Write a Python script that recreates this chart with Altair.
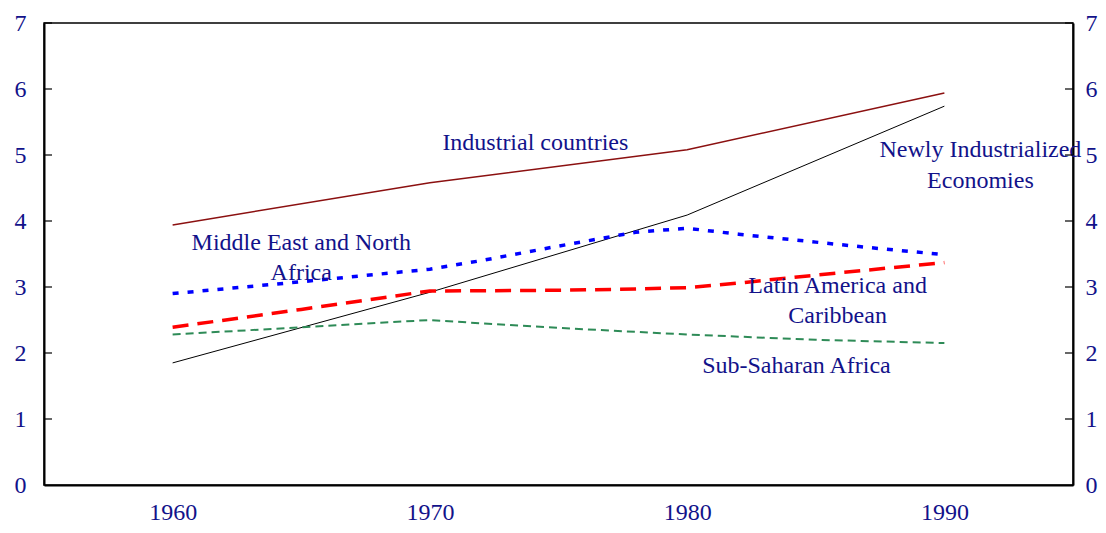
import altair as alt
import pandas as pd

# ---- data ----
ind_years = [1960, 1970, 1980, 1990]
ind_vals = [3.94, 4.58, 5.08, 5.94]

nie_years = [1960, 1970, 1980, 1990]
nie_vals = [1.85, 2.92, 4.09, 5.74]

mena_years = [1960, 1965, 1970, 1972, 1975, 1978, 1980, 1982, 1985, 1987, 1990]
mena_vals = [2.90, 3.08, 3.27, 3.40, 3.62, 3.83, 3.89, 3.80, 3.68, 3.60, 3.49]

lac_years = [1960, 1965, 1970, 1975, 1978, 1980, 1982, 1985, 1990]
lac_vals = [2.39, 2.66, 2.94, 2.95, 2.97, 2.99, 3.06, 3.18, 3.37]

ssa_years = [1960, 1965, 1970, 1972, 1975, 1980, 1985, 1990]
ssa_vals = [2.28, 2.39, 2.50, 2.45, 2.38, 2.28, 2.20, 2.15]

label_text = ["Industrial countries", "Newly Industrialized", "Economies",
              "Middle East and North", "Africa", "Latin America and", "Caribbean",
              "Sub-Saharan Africa"]
label_x = [1974.1, 1991.4, 1991.4, 1965.0, 1965.0, 1985.85, 1985.85, 1984.25]
label_y = [5.18, 5.08, 4.61, 3.67, 3.21, 3.02, 2.56, 1.80]

y_ticks = [0, 1, 2, 3, 4, 5, 6, 7]
x_ticks = [1960, 1970, 1980, 1990]

W, H = 1029, 462
FONT = "Liberation Serif"
NAVY = "#12128a"

series = [
    (ind_years, ind_vals, "#8b1010", 1.5, None),
    (nie_years, nie_vals, "#000000", 1.0, None),
    (ssa_years, ssa_vals, "#2e8b57", 2.0, [8, 5]),
    (lac_years, lac_vals, "#ff0000", 3.5, [16, 9]),
    (mena_years, mena_vals, "#0000ff", 3.5, [6, 9]),
]

xscale = alt.Scale(domain=[1955, 1995], nice=False, zero=False)
yscale = alt.Scale(domain=[0, 7], nice=False)

xaxis = alt.Axis(values=x_ticks, format="d", title=None, grid=False, ticks=False,
                 domainColor="black", domainWidth=2, labelFont=FONT, labelFontSize=24,
                 labelColor=NAVY, labelPadding=15)
yaxis_left = alt.Axis(values=y_ticks, title=None, grid=False, ticks=False,
                      domainColor="black", domainWidth=2, labelFont=FONT, labelFontSize=24,
                      labelColor=NAVY, labelPadding=18)
yaxis_right = alt.Axis(values=y_ticks, title=None, grid=False, ticks=False, orient="right",
                       domainColor="black", domainWidth=2, labelFont=FONT, labelFontSize=24,
                       labelColor=NAVY, labelPadding=12)

X = lambda f: alt.X(f, scale=xscale, axis=xaxis)
YL = lambda f: alt.Y(f, scale=yscale, axis=yaxis_left)

layers = []
for yrs, vals, col, sw, dash in series:
    df = pd.DataFrame({"year": yrs, "value": vals})
    kw = dict(color=col, strokeWidth=sw)
    if dash:
        kw["strokeDash"] = dash
    layers.append(alt.Chart(df).mark_line(**kw).encode(x=X("year:Q"), y=YL("value:Q")))

tick_df = pd.DataFrame({"v": y_ticks[1:]})
left_ticks = alt.Chart(tick_df).mark_rule(color="black", strokeWidth=1.2).encode(
    y=YL("v:Q"), x=alt.value(0), x2=alt.value(8))
right_ticks = alt.Chart(tick_df).mark_rule(color="black", strokeWidth=1.2).encode(
    y=alt.Y("v:Q", scale=yscale, axis=yaxis_right), x=alt.value(W - 8), x2=alt.value(W))

lab_df = pd.DataFrame({"t": label_text, "x": label_x, "y": label_y})
labels = alt.Chart(lab_df).mark_text(font=FONT, fontSize=24, color=NAVY, align="center",
                                     baseline="middle").encode(
    x=X("x:Q"), y=YL("y:Q"), text="t:N")

base = alt.layer(*layers, left_ticks, labels)
chart = alt.layer(base, right_ticks).resolve_scale(y="independent").properties(
    width=W, height=H,
    background="white",
    autosize=alt.AutoSizeParams(type="none"),
    padding={"left": 36, "top": 15, "right": 25, "bottom": 40},
).configure_view(stroke="black", strokeWidth=1.5)

chart.save("out.html", embed_options={"renderer": "svg", "actions": False})
